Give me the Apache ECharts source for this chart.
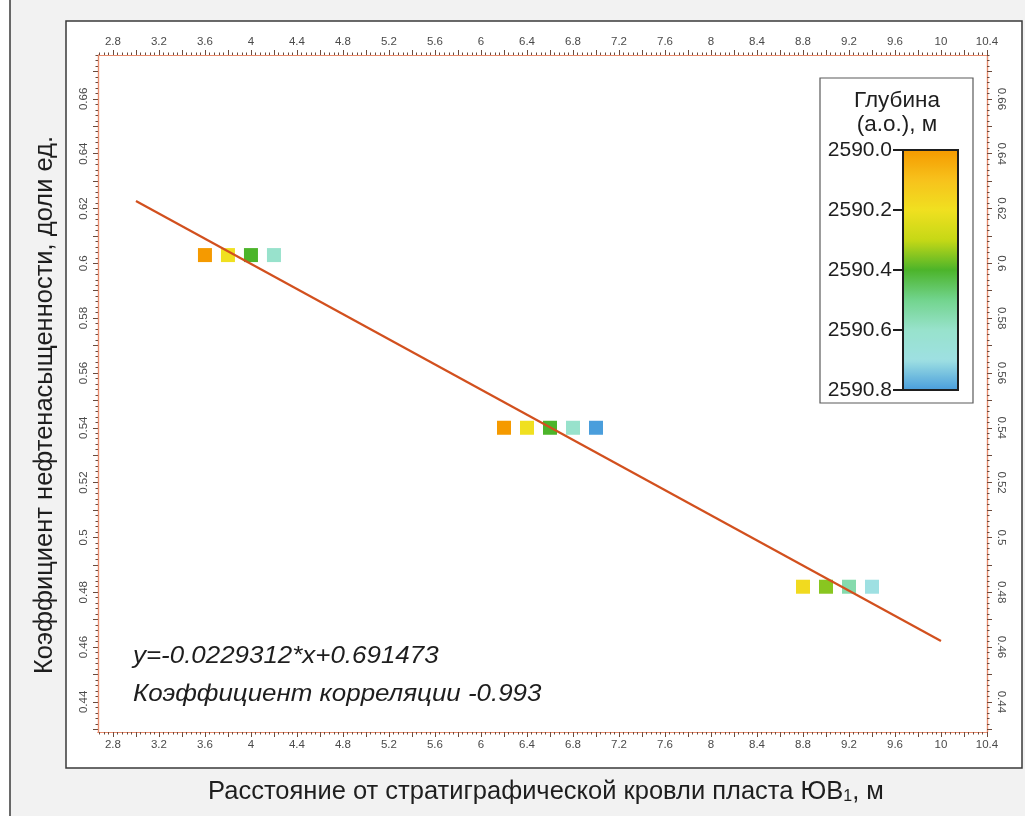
<!DOCTYPE html>
<html>
<head>
<meta charset="utf-8">
<script src="https://cdn.jsdelivr.net/npm/echarts@6/dist/echarts.min.js"></script>
<style>
html,body{margin:0;padding:0;background:#ffffff;}
#c{width:1025px;height:816px;}
</style>
</head>
<body>
<div id="c"></div>
<script>
// ---- data ----
const distance = [3.6, 3.8, 4.0, 4.2, 6.2, 6.4, 6.6, 6.8, 7.0, 8.8, 9.0, 9.2, 9.4];
const saturation = [0.603, 0.603, 0.603, 0.603, 0.540, 0.540, 0.540, 0.540, 0.540, 0.482, 0.482, 0.482, 0.482];
const depth = [2590.0, 2590.2, 2590.4, 2590.6, 2590.0, 2590.2, 2590.4, 2590.6, 2590.8, 2590.18, 2590.35, 2590.55, 2590.7];
const trendX = [3.0, 10.0];
const trendY = [0.6227, 0.4622];
const xTickLabels = [2.8, 3.2, 3.6, 4, 4.4, 4.8, 5.2, 5.6, 6, 6.4, 6.8, 7.2, 7.6, 8, 8.4, 8.8, 9.2, 9.6, 10, 10.4];
const yTickLabels = [0.44, 0.46, 0.48, 0.5, 0.52, 0.54, 0.56, 0.58, 0.6, 0.62, 0.64, 0.66];
const depthTickLabels = [2590.0, 2590.2, 2590.4, 2590.6, 2590.8];
const depthColors = ['#f59a00', '#f7c21c', '#f0e020', '#c6d816', '#4cb42a', '#72d48e', '#98e2cc', '#9ee0e2', '#4a9edc'];
const formulaText = 'y=-0.0229312*x+0.691473';
const corrText = 'Коэффициент корреляции -0.993';

// ---- helpers for tick positions ----
function steps(from, to, step) {
  const out = [];
  const n = Math.round((to - from) / step);
  for (let i = 0; i <= n; i++) out.push(Math.round((from + i * step) * 10000) / 10000);
  return out;
}
const X_MIN = 2.67, X_MAX = 10.4, Y_MIN = 0.429, Y_MAX = 0.676;
const xMajor = steps(2.8, 10.4, 0.2);
const xMinor = steps(2.68, 10.4, 0.04);
const yMajor = steps(0.43, 0.67, 0.01);
const yMinor = steps(0.43, 0.676, 0.002);

const points = distance.map((x, i) => [x, saturation[i], depth[i]]);
const trend = trendX.map((x, i) => [x, trendY[i]]);

const FONT = "'Liberation Sans Narrow','Liberation Sans',Arial,sans-serif";
const SANS = "'Liberation Sans',Arial,sans-serif";
const AXIS_LINE = '#e88a6c';
const TICK = '#6b4a3c';

function xAx(pos, labels, major) {
  return {
    type: 'value', gridIndex: 0, position: pos, min: X_MIN, max: X_MAX,
    axisLine: {show: true, lineStyle: {color: AXIS_LINE, width: 1.2}},
    axisTick: {show: true, customValues: major ? xMajor : xMinor, length: major ? 5 : 2.5, lineStyle: {color: TICK, width: 1}},
    axisLabel: {show: labels, customValues: xTickLabels, fontSize: 11.5, color: '#4a4a4a', fontFamily: FONT, margin: 7},
    splitLine: {show: false}
  };
}
function yAx(pos, labels, major) {
  return {
    type: 'value', gridIndex: 0, position: pos, min: Y_MIN, max: Y_MAX,
    axisLine: {show: true, lineStyle: {color: AXIS_LINE, width: 1.2}},
    axisTick: {show: true, customValues: major ? yMajor : yMinor, length: major ? 5 : 2.5, lineStyle: {color: TICK, width: 1}},
    axisLabel: {show: labels, customValues: yTickLabels, fontSize: 11.5, color: '#4a4a4a', fontFamily: FONT, margin: 8,
      rotate: pos === 'left' ? 90 : -90},
    splitLine: {show: false}
  };
}

const chart = echarts.init(document.getElementById('c'), null, {renderer: 'canvas'});
const option = {
  animation: false,
  backgroundColor: '#ffffff',
  graphic: [
    {type: 'rect', z: -10, silent: true, shape: {x: 10, y: -2, width: 1020, height: 822},
      style: {fill: '#f2f2f2', stroke: '#3a3a3a', lineWidth: 1.5}},
    {type: 'rect', z: -9, silent: true, shape: {x: 66, y: 21, width: 956, height: 747},
      style: {fill: '#ffffff', stroke: '#3a3a3a', lineWidth: 1.5}},
    {type: 'text', silent: true, x: 45, y: 405, rotation: Math.PI / 2,
      style: {text: 'Коэффициент нефтенасыщенности, доли ед.', fontSize: 25.5, fontFamily: SANS,
        fill: '#1e1e1e', align: 'center', verticalAlign: 'middle'}},
    {type: 'text', silent: true, x: 546, y: 792,
      style: {text: '{a|Расстояние от стратиграфической кровли пласта ЮВ}{s|1}{a|, м}', align: 'center', verticalAlign: 'middle',
        rich: {
          a: {fontSize: 25.5, fontFamily: SANS, fill: '#1e1e1e', color: '#1e1e1e'},
          s: {fontSize: 16, fontFamily: SANS, fill: '#1e1e1e', color: '#1e1e1e', padding: [9, 0, 0, 0]}
        }}},
    {type: 'text', silent: true, x: 133, y: 656, z: 10, scaleX: 1.08,
      style: {text: formulaText, fontSize: 24, fontStyle: 'italic', fontFamily: SANS,
        fill: '#1e1e1e', align: 'left', verticalAlign: 'middle'}},
    {type: 'text', silent: true, x: 133, y: 694, z: 10, scaleX: 1.08,
      style: {text: corrText, fontSize: 24, fontStyle: 'italic', fontFamily: SANS,
        fill: '#1e1e1e', align: 'left', verticalAlign: 'middle'}},
    {type: 'rect', z: 5, silent: true, shape: {x: 820, y: 78, width: 153, height: 325},
      style: {fill: '#ffffff', stroke: '#5a5a5a', lineWidth: 1.2}},
    {type: 'text', silent: true, x: 897, y: 101, z: 6,
      style: {text: 'Глубина', fontSize: 22.5, fontFamily: SANS, fill: '#1e1e1e', align: 'center', verticalAlign: 'middle'}},
    {type: 'text', silent: true, x: 897, y: 125, z: 6,
      style: {text: '(а.о.), м', fontSize: 22.5, fontFamily: SANS, fill: '#1e1e1e', align: 'center', verticalAlign: 'middle'}}
  ],
  grid: [
    {left: 98, right: 38, top: 55, bottom: 84, containLabel: false},
    {left: 903, top: 150, width: 55, height: 240, show: true, borderColor: '#1e1e1e', borderWidth: 2, backgroundColor: 'transparent', z: 20}
  ],
  xAxis: [
    xAx('bottom', true, true),
    xAx('bottom', false, false),
    xAx('top', true, true),
    xAx('top', false, false),
    {type: 'value', gridIndex: 1, show: false, min: 0, max: 1}
  ],
  yAxis: [
    yAx('left', true, true),
    yAx('left', false, false),
    yAx('right', true, true),
    yAx('right', false, false),
    {type: 'value', gridIndex: 1, position: 'left', min: 2590.0, max: 2590.8, interval: 0.2, inverse: true, z: 20,
      axisLine: {show: false},
      axisTick: {show: true, length: 10, lineStyle: {color: '#1e1e1e', width: 2}},
      axisLabel: {show: true, fontSize: 21, color: '#1e1e1e', fontFamily: SANS, margin: 11,
        formatter: v => v.toFixed(1), customValues: depthTickLabels},
      splitLine: {show: false}}
  ],
  visualMap: [{
    type: 'continuous', min: 2590.0, max: 2590.8, dimension: 2, seriesIndex: [0],
    inverse: true, orient: 'vertical', left: 903, top: 150, itemWidth: 55, itemHeight: 240,
    calculable: false, padding: 0, hoverLink: false, z: 15,
    inRange: {color: depthColors}
  }],
  series: [
    {type: 'scatter', xAxisIndex: 0, yAxisIndex: 0, symbol: 'rect', symbolSize: 14, data: points, z: 3,
      itemStyle: {opacity: 1}},
    {type: 'line', xAxisIndex: 0, yAxisIndex: 0, data: trend, showSymbol: false, symbol: 'none', z: 4,
      lineStyle: {color: '#d2501e', width: 2.2}}
  ]
};
chart.setOption(option);
</script>
</body>
</html>
